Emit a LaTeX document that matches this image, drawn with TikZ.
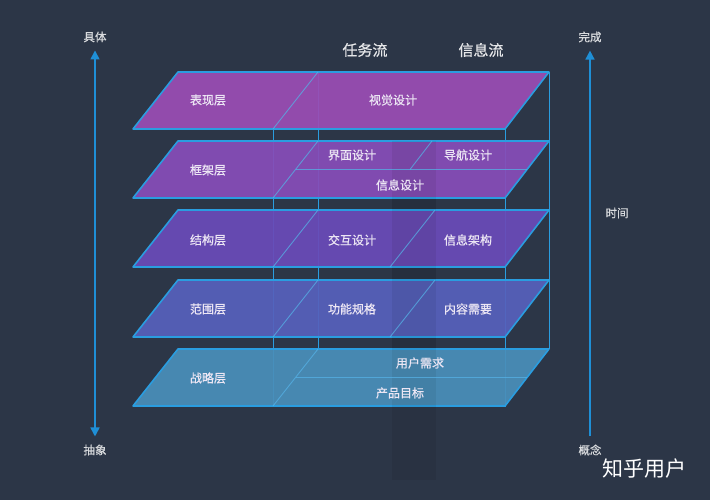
\documentclass[tikz,border=0pt]{standalone}
\usepackage{fontspec}
\setmainfont{Noto Sans CJK SC}
\newfontfamily\cjkmid{Noto Sans CJK SC}[FakeBold=0.6]
\usepackage{tikz}
\usetikzlibrary{arrows.meta, positioning, calc}

\definecolor{bgcol}{HTML}{2C3647}
\definecolor{edgecol}{HTML}{2A9DE0}
\definecolor{axiscol}{HTML}{1F8FD6}
\definecolor{layA}{HTML}{9A4DB4}
\definecolor{layB}{HTML}{874DB8}
\definecolor{layC}{HTML}{6A4BB8}
\definecolor{layD}{HTML}{5661BC}
\definecolor{layE}{HTML}{4A8FBA}
\definecolor{txtcol}{HTML}{ECE6F4}

\tikzset{
  layer/.style={fill=#1, fill opacity=0.93, draw=edgecol, line width=1.6pt, line join=round},
  divider/.style={draw=edgecol!80!white, line width=0.9pt, opacity=0.75},
  pillar/.style={draw=edgecol, line width=1pt},
  txt/.style={text=txtcol, font=\cjkmid\fontsize{12}{14}\selectfont, inner sep=2pt},
  axislabel/.style={text=white!82!bgcol, font=\cjkmid\fontsize{11.5}{13}\selectfont, inner sep=2pt},
  flowlabel/.style={text=white!88!bgcol, font=\cjkmid\fontsize{15}{17}\selectfont, inner sep=2pt},
  axisline/.style={draw=axiscol, line width=1.6pt},
}

\begin{document}
\begin{tikzpicture}[x=1pt,y=-1pt]
\useasboundingbox (0,0) rectangle (710,500);
\fill[bgcol] (0,0) rectangle (710,500);

% faint shadow column behind the flows
\fill[black, opacity=0.06] (392,140) rectangle (436,480);

% edges of the flow box
\draw[pillar] (273,129) -- (273,407);
\draw[pillar] (318,72) -- (318,349);
\draw[pillar] (505,129) -- (505,407);
\draw[pillar] (549,72) -- (549,349);

% layers, bottom up
\foreach \t/\c in {349/layE, 280/layD, 210/layC, 141/layB, 72/layA} {
  \draw[layer=\c] (178,\t) -- (549,\t) -- (505,\t+57) -- (133,\t+57) -- cycle;
  \draw[divider] (273,\t+57) -- (318,\t);
}
\fill[black, opacity=0.06] (392,141) rectangle (436,407);
\draw[divider] (390,267) -- (435,210);
\draw[divider] (390,337) -- (435,280);
\draw[divider] (296,169.5) -- (527,169.5);
\draw[divider] (410,169.5) -- (432,141);
\draw[divider] (296,377.5) -- (527,377.5);

% column headers
\node[flowlabel] (task) at (365,50) {任务流};
\node[flowlabel] (info) at (481,50) {信息流};

% layer texts
\node[txt] (surface) at (208,100) {表现层};
\node[txt] (visual) at (393,100) {视觉设计};
\node[txt] (skeleton) at (208,170) {框架层};
\node[txt] (iface) at (352,155) {界面设计};
\node[txt] (navi) at (468,155) {导航设计};
\node[txt] (infodes) at (400,185) {信息设计};
\node[txt] (structure) at (208,240) {结构层};
\node[txt] (interact) at (352,240) {交互设计};
\node[txt] (arch) at (468,240) {信息架构};
\node[txt] (scope) at (208,309) {范围层};
\node[txt] (funcspec) at (352,309) {功能规格};
\node[txt] (content) at (468,309) {内容需要};
\node[txt] (strategy) at (208,378) {战略层};
\node[txt] (userneed) at (420,363) {用户需求};
\node[txt] (goal) at (400,393) {产品目标};

% axes
\node[axislabel] (concrete) at (95,37) {具体};
\node[axislabel] (abstract) at (95,450) {抽象};
\node[axislabel] (done) at (590,37) {完成};
\node[axislabel] (concept) at (590,450) {概念};
\node[axislabel] (time) at (617,213) {时间};
\draw[axisline, {Triangle[width=9pt,length=9pt]}-{Triangle[width=9pt,length=9pt]}, shorten <=6pt, shorten >=6pt] (concrete.south) -- (abstract.north);
\draw[axisline, -{Triangle[width=9pt,length=9pt]}, shorten <=6pt, shorten >=6pt] (concept.north) -- (done.south);

\node[text=white, font=\fontsize{21}{24}\selectfont] (mark) at (644,469) {知乎用户};
\end{tikzpicture}
\end{document}
